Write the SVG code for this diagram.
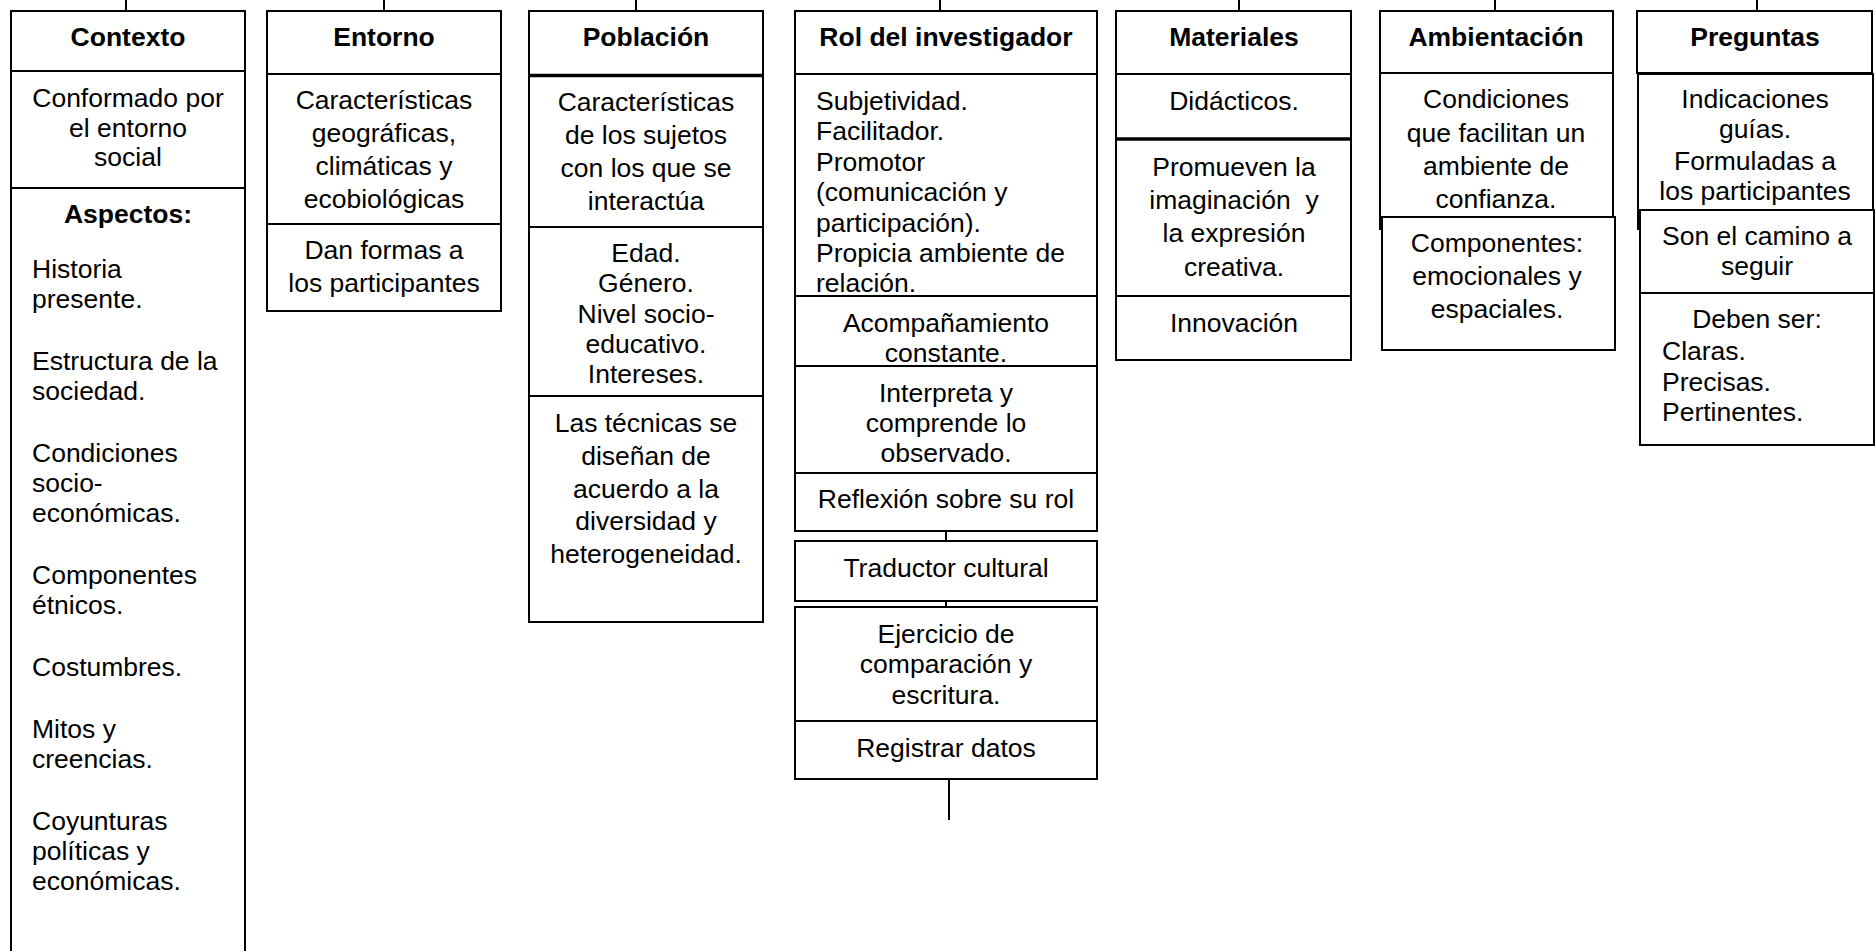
<svg xmlns="http://www.w3.org/2000/svg" width="1876" height="951" viewBox="0 0 1876 951">
<style>
.b{fill:#fff;stroke:#000;stroke-width:2}
.d{stroke:#000;stroke-width:2;fill:none}
.dt{stroke:#000;stroke-width:3.5;fill:none}
text{font-family:"Liberation Sans",Arial,sans-serif;font-size:26.5px;fill:#000}
.c{text-anchor:middle}
.h{font-weight:bold;text-anchor:middle}
</style>
<rect width="1876" height="951" fill="#fff"/>
<g id="connectors">
<line class="d" x1="126" y1="0" x2="126" y2="11"/>
<line class="d" x1="384" y1="0" x2="384" y2="11"/>
<line class="d" x1="636" y1="0" x2="636" y2="11"/>
<line class="d" x1="940" y1="0" x2="940" y2="11"/>
<line class="d" x1="1239" y1="0" x2="1239" y2="11"/>
<line class="d" x1="1495" y1="0" x2="1495" y2="11"/>
<line class="d" x1="1757" y1="0" x2="1757" y2="11"/>
<line class="d" x1="946" y1="531" x2="946" y2="541"/>
<line class="d" x1="946" y1="601" x2="946" y2="607"/>
<line class="d" x1="949" y1="779" x2="949" y2="820"/>
</g>
<g id="contexto">
<rect class="b" x="11" y="11" width="234" height="960"/>
<line class="d" x1="11" y1="71" x2="245" y2="71"/>
<line class="d" x1="11" y1="188" x2="245" y2="188"/>
<text class="h" x="128" y="46">Contexto</text>
<text class="c" x="128" y="107">Conformado por</text>
<text class="c" x="128" y="137">el entorno</text>
<text class="c" x="128" y="166">social</text>
<text class="h" x="128" y="223">Aspectos:</text>
<text x="32" y="278">Historia</text>
<text x="32" y="308">presente.</text>
<text x="32" y="370">Estructura de la</text>
<text x="32" y="400">sociedad.</text>
<text x="32" y="462">Condiciones</text>
<text x="32" y="492">socio-</text>
<text x="32" y="522">económicas.</text>
<text x="32" y="584">Componentes</text>
<text x="32" y="614">étnicos.</text>
<text x="32" y="676">Costumbres.</text>
<text x="32" y="738">Mitos y</text>
<text x="32" y="768">creencias.</text>
<text x="32" y="830">Coyunturas</text>
<text x="32" y="860">políticas y</text>
<text x="32" y="890">económicas.</text>
</g>
<g id="entorno">
<rect class="b" x="267" y="11" width="234" height="300"/>
<line class="d" x1="267" y1="74" x2="501" y2="74"/>
<line class="d" x1="267" y1="224" x2="501" y2="224"/>
<text class="h" x="384" y="46">Entorno</text>
<text class="c" x="384" y="109">Características</text>
<text class="c" x="384" y="142">geográficas,</text>
<text class="c" x="384" y="175">climáticas y</text>
<text class="c" x="384" y="208">ecobiológicas</text>
<text class="c" x="384" y="259">Dan formas a</text>
<text class="c" x="384" y="292">los participantes</text>
</g>
<g id="poblacion">
<rect class="b" x="529" y="11" width="234" height="611"/>
<line class="dt" x1="529" y1="75.5" x2="763" y2="75.5"/>
<line class="d" x1="529" y1="227" x2="763" y2="227"/>
<line class="d" x1="529" y1="396" x2="763" y2="396"/>
<text class="h" x="646" y="46">Población</text>
<text class="c" x="646" y="111">Características</text>
<text class="c" x="646" y="144">de los sujetos</text>
<text class="c" x="646" y="177">con los que se</text>
<text class="c" x="646" y="210">interactúa</text>
<text class="c" x="646" y="262">Edad.</text>
<text class="c" x="646" y="292">Género.</text>
<text class="c" x="646" y="323">Nivel socio-</text>
<text class="c" x="646" y="353">educativo.</text>
<text class="c" x="646" y="383">Intereses.</text>
<text class="c" x="646" y="432">Las técnicas se</text>
<text class="c" x="646" y="465">diseñan de</text>
<text class="c" x="646" y="498">acuerdo a la</text>
<text class="c" x="646" y="530">diversidad y</text>
<text class="c" x="646" y="563">heterogeneidad.</text>
</g>
<g id="rol">
<rect class="b" x="795" y="11" width="302" height="520"/>
<line class="d" x1="795" y1="74" x2="1097" y2="74"/>
<text class="h" x="946" y="46">Rol del investigador</text>
<text x="816" y="110">Subjetividad.</text>
<text x="816" y="140">Facilitador.</text>
<text x="816" y="171">Promotor</text>
<text x="816" y="201">(comunicación y</text>
<text x="816" y="232">participación).</text>
<text x="816" y="262">Propicia ambiente de</text>
<text x="816" y="292">relación.</text>
<line class="d" x1="795" y1="296" x2="1097" y2="296"/>
<text class="c" x="946" y="332">Acompañamiento</text>
<text class="c" x="946" y="362">constante.</text>
<line class="d" x1="795" y1="366" x2="1097" y2="366"/>
<text class="c" x="946" y="402">Interpreta y</text>
<text class="c" x="946" y="432">comprende lo</text>
<text class="c" x="946" y="462">observado.</text>
<line class="d" x1="795" y1="473" x2="1097" y2="473"/>
<text class="c" x="946" y="508">Reflexión sobre su rol</text>
</g>
<g id="traductor">
<rect class="b" x="795" y="541" width="302" height="60"/>
<text class="c" x="946" y="577">Traductor cultural</text>
</g>
<g id="ejercicio">
<rect class="b" x="795" y="607" width="302" height="172"/>
<line class="d" x1="795" y1="721" x2="1097" y2="721"/>
<text class="c" x="946" y="643">Ejercicio de</text>
<text class="c" x="946" y="673">comparación y</text>
<text class="c" x="946" y="704">escritura.</text>
<text class="c" x="946" y="757">Registrar datos</text>
</g>
<g id="materiales">
<rect class="b" x="1116" y="11" width="235" height="349"/>
<line class="d" x1="1116" y1="74" x2="1351" y2="74"/>
<line class="dt" x1="1116" y1="139" x2="1351" y2="139"/>
<line class="d" x1="1116" y1="296" x2="1351" y2="296"/>
<text class="h" x="1234" y="46">Materiales</text>
<text class="c" x="1234" y="110">Didácticos.</text>
<text class="c" x="1234" y="176">Promueven la</text>
<text class="c" x="1234" y="209" xml:space="preserve">imaginación  y</text>
<text class="c" x="1234" y="242">la expresión</text>
<text class="c" x="1234" y="276">creativa.</text>
<text class="c" x="1234" y="332">Innovación</text>
</g>
<g id="ambientacion">
<rect class="b" x="1380" y="11" width="233" height="62"/>
<text class="h" x="1496" y="46">Ambientación</text>
<rect class="b" x="1380" y="73" width="233" height="156"/>
<text class="c" x="1496" y="108">Condiciones</text>
<text class="c" x="1496" y="142">que facilitan un</text>
<text class="c" x="1496" y="175">ambiente de</text>
<text class="c" x="1496" y="208">confianza.</text>
<rect class="b" x="1382" y="217" width="233" height="133"/>
<text class="c" x="1497" y="252">Componentes:</text>
<text class="c" x="1497" y="285">emocionales y</text>
<text class="c" x="1497" y="318">espaciales.</text>
</g>
<g id="preguntas">
<rect class="b" x="1637" y="11" width="235" height="62"/>
<text class="h" x="1755" y="46">Preguntas</text>
<rect class="b" x="1638" y="74" width="235" height="155"/>
<text class="c" x="1755" y="108">Indicaciones</text>
<text class="c" x="1755" y="138">guías.</text>
<text class="c" x="1755" y="170">Formuladas a</text>
<text class="c" x="1755" y="200">los participantes</text>
<rect class="b" x="1640" y="210" width="234" height="83"/>
<text class="c" x="1757" y="245">Son el camino a</text>
<text class="c" x="1757" y="275">seguir</text>
<rect class="b" x="1640" y="293" width="234" height="152"/>
<text class="c" x="1757" y="328">Deben ser:</text>
<text x="1662" y="360">Claras.</text>
<text x="1662" y="391">Precisas.</text>
<text x="1662" y="421">Pertinentes.</text>
</g>
</svg>
